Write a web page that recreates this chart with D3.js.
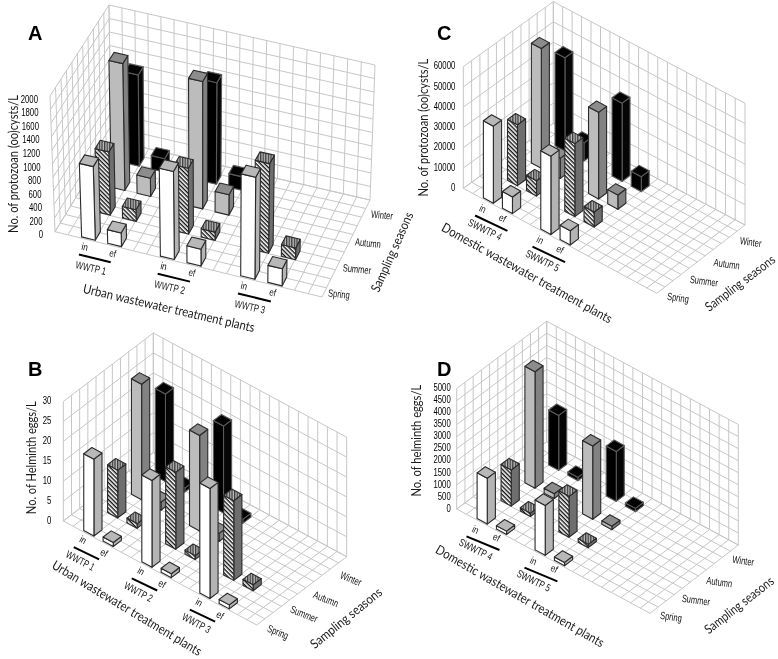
<!DOCTYPE html>
<html><head><meta charset="utf-8">
<script src="https://cdn.jsdelivr.net/npm/d3@7/dist/d3.min.js"></script>
<style>html,body{margin:0;padding:0;background:#fff}svg{display:block;filter:blur(0.35px)}</style>
</head><body><svg id="c" width="778" height="659"></svg>
<script>
// ---------- data (rows: plants; columns: seasons) ----------
const seasons = ["Spring","Summer","Autumn","Winter"];
const aTicks = [0,200,400,600,800,1000,1200,1400,1600,1800,2000];
const bTicks = [0,5,10,15,20,25,30];
const cTicks = [0,10000,20000,30000,40000,50000,60000];
const dTicks = [0,500,1000,1500,2000,2500,3000,3500,4000,4500,5000];
const aPlants = ["WWTP 1","WWTP 2","WWTP 3"];
const bPlants = ["WWTP 1","WWTP 2","WWTP 3"];
const cPlants = ["SWWTP 4","SWWTP 5"];
const dPlants = ["SWWTP 4","SWWTP 5"];
const aIn = [[1080,930,1870,1350],[1280,960,1870,1500],[1470,1300,null,null]];
const aEf = [[200,170,270,200],[245,120,300,200],[245,170,null,null]];
const bIn = [[19.3,12,29,22],[21.8,19.3,24,21.8],[27.6,20,null,null]];
const bEf = [[1,1.2,2,1],[1,1,2,1],[1,1.5,null,null]];
const cIn = [[38000,30000,59000,46000],[38600,36000,42700,38600]];
const cEf = [[8200,7500,10000,9000],[7000,7400,7000,7400]];
const dIn = [[1900,1500,4830,2280],[2070,1700,3040,2070]];
const dEf = [[140,140,200,140],[140,140,140,140]];

// ---------- layout ----------
const panels = [
 {name:"A",letter:[28,40],yTitle:"No. of protozoan (oo)cysts/L",xTitle:"Urban wastewater treatment plants",
  ticks:aTicks,plants:aPlants,inV:aIn,efV:aEf,
  FL:[55,231.7],FR:[322,297],BR:[370,200],BL:[111,140],
  hFL:[-5,-135.7],hFR:[3,-140],hBR:[5,-135],hBL:[-2,-135],
  tickOff:[-12,3],yT:[13,164,138],xT:[169,308,176,13],sT:[392,252,86,-66],
  sL:[[339,294],[357,269],[368,243],[382,215]],sRot:6,
  inO:[3.3,10],efO:[5,10],l0:[-2.7,17.7],l1:[3,19],gO:[9.3,31],gRot:13},
 {name:"B",letter:[28,376],yTitle:"No. of Helminth eggs/L",xTitle:"Urban wastewater treatment plants",
  ticks:bTicks,plants:bPlants,inV:bIn,efV:bEf,
  FL:[63.3,521],FR:[256.7,625],BR:[346.7,556.7],BL:[153.3,452.5],
  hFL:[0,-119.5],hFR:[0,-119.5],hBR:[0,-119.5],hBL:[0,-119.5],
  tickOff:[-12,-1],yT:[31,457.7,113],xT:[127,608,172,31],sT:[346,618,88,-39],
  sL:[[278,632],[304,614],[326,599],[351,578.7]],sRot:22,
  inO:[-0.7,9.3],efO:[1,11.6],l0:[-10,16.6],l1:[-4,18.3],gO:[-3.3,30],gRot:28},
 {name:"C",letter:[437,40],yTitle:"No. of protozoan (oo)cysts/L",xTitle:"Domestic wastewater treatment plants",
  ticks:cTicks,plants:cPlants,inV:cIn,efV:cEf,
  FL:[463.3,188.3],FR:[656.7,293.3],BR:[745,225],BL:[553.3,123.3],
  hFL:[0,-121.7],hFR:[0,-121.7],hBR:[0,-121.7],hBL:[0,-121.7],
  tickOff:[-8,-1],yT:[423,127.7,138],xT:[527,273,193,29],sT:[740,283,84,-37],
  sL:[[678,297.7],[704,281],[726.7,264],[750.7,242]],sRot:8,
  inO:[-0.6,11],efO:[0,10],l0:[-8.3,17.7],l1:[5,22.7],gO:[1.7,31.7],gRot:26},
 {name:"D",letter:[437,376],yTitle:"No. of helminth eggs/L",xTitle:"Domestic wastewater treatment plants",
  ticks:dTicks,plants:dPlants,inV:dIn,efV:dEf,
  FL:[456.7,509],FR:[650,613.3],BR:[738.3,545],BL:[546.7,441.7],
  hFL:[0,-120.5],hFR:[0,-120.5],hBR:[0,-120.5],hBL:[0,-120.5],
  tickOff:[-6,-1],yT:[416,440.7,112],xT:[520,596,192,29.8],sT:[739,605,84,-38],
  sL:[[671,616.7],[696,600],[719.3,582],[743.3,560.7]],sRot:8,
  inO:[-1.6,11],efO:[0,8.3],l0:[-10.6,17.7],l1:[3,21],gO:[-1.3,30.7],gRot:26}
];
const X_CELLS = 20, Z_CELLS = 11, BAR_W = 1.05, BAR_D = 0.09;
const sx = d3.scaleLinear().domain([0,X_CELLS]).range([0,1]);
const sz = d3.scaleLinear().domain([0,3]).range([0.012,0.012+3*0.265]);
const styles = [
 {front:"#fff",side:"#b4b4b4",top:"#b8b8b8",stroke:"#2a2a2a"},
 {front:"url(#hatch)",side:"#6e6e6e",top:"url(#tophatch)",stroke:"#2a2a2a"},
 {front:"#bcbcbc",side:"#828282",top:"#8c8c8c",stroke:"#2a2a2a"},
 {front:"#000",side:"#060606",top:"#020202",stroke:"#5a5a5a"}
];
const grid = "#c6c6c6";
const tickFont = "'Liberation Sans',sans-serif";
const titleFont = "Lato,'Open Sans',sans-serif";

const svg = d3.select("#c");
const defs = svg.append("defs");
const h = defs.append("pattern").attr("id","hatch").attr("width",3).attr("height",3)
  .attr("patternUnits","userSpaceOnUse").attr("patternTransform","rotate(45)");
h.append("rect").attr("width",3).attr("height",3).attr("fill","#fff");
h.append("rect").attr("width",3).attr("height",1.4).attr("fill","#111");
const t = defs.append("pattern").attr("id","tophatch").attr("width",2.6).attr("height",2.6)
  .attr("patternUnits","userSpaceOnUse");
t.append("rect").attr("width",2.6).attr("height",2.6).attr("fill","#bdbdbd");
t.append("rect").attr("width",1.3).attr("height",2.6).attr("fill","#3a3a3a");

function projector(p){
  const [x0,y0]=p.FL,[x1,y1]=p.FR,[x2,y2]=p.BR,[x3,y3]=p.BL;
  const dx1=x1-x2,dx2=x3-x2,ex=x0-x1+x2-x3,dy1=y1-y2,dy2=y3-y2,ey=y0-y1+y2-y3;
  const den=dx1*dy2-dx2*dy1,g=(ex*dy2-dx2*ey)/den,k=(dx1*ey-ex*dy1)/den;
  const a=x1-x0+g*x1,b=x3-x0+k*x3,d=y1-y0+g*y1,e=y3-y0+k*y3;
  return (u,v,w=0)=>{
    const q=g*u+k*v+1,fx=(a*u+b*v+x0)/q,fy=(d*u+e*v+y0)/q;
    const lerp=i=>(1-u)*(1-v)*p.hFL[i]+u*(1-v)*p.hFR[i]+u*v*p.hBR[i]+(1-u)*v*p.hBL[i];
    return [fx+w*lerp(0),fy+w*lerp(1)];
  };
}
function txt(g,s,x,y,rot,o){
  const el=g.append("text")
    .attr("dy",o.dy||"0.35em")
    .attr("text-anchor",o.anchor||"middle").attr("font-family",o.font).attr("font-size",o.size)
    .attr("fill",o.fill||"#1a1a1a").attr("font-weight",o.weight||"normal").text(s);
  // a target length is reached by scaling the text horizontally
  const k=o.len?o.len/el.node().getComputedTextLength():(o.sx||1);
  el.attr("transform",`translate(${x},${y}) rotate(${rot}) scale(${k},1)`);
  return el;
}
panels.forEach(p=>{
  const P=projector(p), g=svg.append("g").attr("class","panel-"+p.name);
  const sy=d3.scaleLinear().domain([0,d3.max(p.ticks)]).range([0,1]);
  const line=d3.line();
  const seg=(a,b)=>g.append("path").attr("d",line([a,b])).attr("stroke",grid).attr("stroke-width",1).attr("fill","none");
  d3.range(X_CELLS+1).forEach(i=>seg(P(sx(i),0),P(sx(i),1)));
  d3.range(Z_CELLS+1).forEach(i=>seg(P(0,i/Z_CELLS),P(1,i/Z_CELLS)));
  d3.range(Z_CELLS+1).forEach(i=>seg(P(0,i/Z_CELLS),P(0,i/Z_CELLS,1)));
  d3.range(X_CELLS+1).forEach(i=>seg(P(sx(i),1),P(sx(i),1,1)));
  p.ticks.forEach(tv=>{
    const w=sy(tv);
    seg(P(0,0,w),P(0,1,w)); seg(P(0,1,w),P(1,1,w));
    const q=P(0,0,w);
    txt(g,String(tv),q[0]+p.tickOff[0],q[1]+p.tickOff[1],0,{anchor:"end",font:tickFont,size:10.5,sx:0.74,fill:"#000"});
  });
  const bars=[];
  p.plants.forEach((pl,pi)=>{
    seasons.forEach((se,si)=>{
      [[p.inV,2],[p.efV,4]].forEach(([arr,off])=>{
        const val=arr[pi][si];
        if(val!=null) bars.push({x:off+pi*6,s:si,val});
      });
    });
  });
  bars.sort((a,b)=>d3.descending(a.s,b.s)||d3.ascending(a.x,b.x));
  bars.forEach(b=>{
    const u0=sx(b.x),u1=sx(b.x+BAR_W),v0=sz(b.s),v1=v0+BAR_D,w=sy(b.val),st=styles[b.s];
    const bg=g.append("g").attr("stroke",st.stroke).attr("stroke-width",1.1).attr("stroke-linejoin","round");
    const poly=(pts,fill)=>bg.append("path").attr("d",line(pts)+"Z").attr("fill",fill);
    poly([P(u1,v0,0),P(u1,v1,0),P(u1,v1,w),P(u1,v0,w)],st.side);
    poly([P(u0,v0,0),P(u1,v0,0),P(u1,v0,w),P(u0,v0,w)],st.front);
    poly([P(u0,v0,w),P(u1,v0,w),P(u1,v1,w),P(u0,v1,w)],st.top);
  });
  txt(g,p.name,p.letter[0],p.letter[1],0,{font:tickFont,size:20,weight:"bold",fill:"#000",anchor:"start",dy:"0"});
  txt(g,p.yTitle,p.yT[0],p.yT[1],-90,{font:titleFont,size:13.5,len:p.yT[2]});
  txt(g,p.xTitle,p.xT[0],p.xT[1],p.xT[3],{font:titleFont,size:13,len:p.xT[2]});
  txt(g,"Sampling seasons",p.sT[0],p.sT[1],p.sT[3],{font:titleFont,size:13,len:p.sT[2]});
  seasons.forEach((se,i)=>txt(g,se,p.sL[i][0],p.sL[i][1],p.sRot,{font:tickFont,size:10.5,sx:0.72,fill:"#111"}));
  p.plants.forEach((pl,pi)=>{
    const b0=P(sx(2+pi*6),sz(0)), b1=P(sx(4+pi*6),sz(0));
    txt(g,"in",b0[0]+p.inO[0],b0[1]+p.inO[1],p.gRot,{font:tickFont,size:10,sx:0.8,fill:"#111"});
    txt(g,"ef",b1[0]+p.efO[0],b1[1]+p.efO[1],p.gRot,{font:tickFont,size:10,sx:0.8,fill:"#111"});
    g.append("path").attr("d",line([[b0[0]+p.l0[0],b0[1]+p.l0[1]],[b1[0]+p.l1[0],b1[1]+p.l1[1]]]))
      .attr("stroke","#000").attr("stroke-width",2).attr("fill","none");
    txt(g,pl,b0[0]+p.gO[0],b0[1]+p.gO[1],p.gRot,{font:tickFont,size:10.5,sx:0.74,fill:"#111"});
  });
});
</script></body></html>
